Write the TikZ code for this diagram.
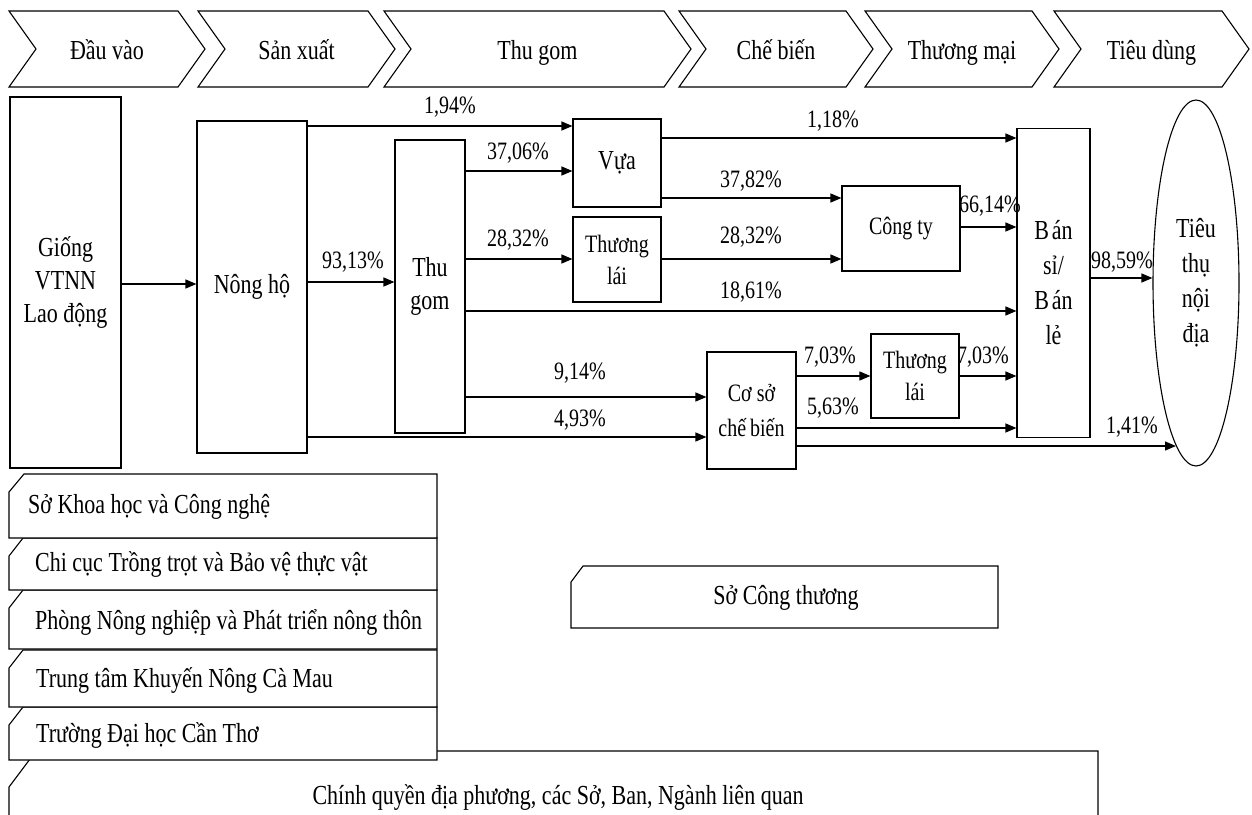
\documentclass[tikz,border=0pt]{standalone}
\usepackage{fontspec}
\setmainfont{Liberation Serif}[FakeStretch=0.8]
\usetikzlibrary{arrows.meta,shapes.geometric,calc}
\tikzset{
  mainfont/.style={font=\fontsize{27.5}{33}\selectfont},
  smallfont/.style={font=\fontsize{25}{32}\selectfont},
  box/.style={draw, line width=1.1pt, fill=white, inner sep=0pt, align=center, mainfont},
  sbox/.style={box, smallfont},
  chev/.style={draw, line width=1.1pt, fill=white, line join=miter},
  snip/.style={draw, line width=1.1pt, fill=white},
  arr/.style={line width=1.3pt, -{Triangle[length=11pt,width=9pt]}},
  pct/.style={inner sep=0pt, smallfont},
  lbl/.style={inner sep=0pt, mainfont},
}
\newcommand{\mychev}[4]{%
  \draw[chev] (#1,11) -- (#2,11) -- ({#2+27},49) -- (#2,87) -- (#1,87) -- ({#1+27},49) -- cycle;
  \node[lbl, anchor=base] (#3) at ({(#1+#2+27)/2},59) {#4};
}
\begin{document}
\begin{tikzpicture}[x=1pt,y=-1pt]
\useasboundingbox (0,0) rectangle (1252,814);
\fill[white] (0,0) rectangle (1252,814);

% stage chevrons
\mychev{9}{178}{c1}{Đầu vào}
\mychev{198}{368}{c2}{Sản xuất}
\mychev{384}{664}{c3}{Thu gom}
\mychev{679}{846}{c4}{Chế biến}
\mychev{865}{1032}{c5}{Thương mại}
\mychev{1054}{1222}{c6}{Tiêu dùng}

% level coordinates
\coordinate (yA) at (0,126);
\coordinate (yB) at (0,284);
\coordinate (yC) at (0,282);
\coordinate (yD) at (0,171);
\coordinate (yE) at (0,259);
\coordinate (yF) at (0,138);
\coordinate (yG) at (0,198);
\coordinate (yH) at (0,259);
\coordinate (yI) at (0,311);
\coordinate (yJ) at (0,227);
\coordinate (yK) at (0,278);
\coordinate (yL) at (0,397);
\coordinate (yM) at (0,437);
\coordinate (yN) at (0,376);
\coordinate (yO) at (0,428);

% nodes
\node[box, minimum width=111, minimum height=371] (gi) at (65.5,282.5) {Giống\\VTNN\\Lao động};
\node[box, minimum width=110, minimum height=332] (nh) at (252,287) {Nông hộ};
\node[box, minimum width=70, minimum height=293] (tg) at (430,286.5) {Thu\\gom};
\node[box, minimum width=88, minimum height=88] (vua) at (617,163) {Vựa};
\node[sbox, minimum width=88, minimum height=85] (tl1) at (617,259.5) {Thương\\lái};
\node[sbox, minimum width=118, minimum height=85] (cty) at (901,228.5) {Công ty};
\node[sbox, minimum width=89, minimum height=117, font=\fontsize{25}{35}\selectfont] (cs) at (751.5,410.5) {Cơ sở\\chế\kern-1pt\ biến};
\node[sbox, minimum width=88, minimum height=84] (tl2) at (915,376) {Thương\\lái};
\node[box, minimum width=73, minimum height=309, font=\fontsize{27.5}{35}\selectfont] (ban) at (1053.5,283) {B\kern3pt án\\sỉ/\\B\kern3pt án\\lẻ};
\node[box, ellipse, minimum width=86, minimum height=366, font=\fontsize{27.5}{35}\selectfont] (tt) at (1196,283) {Tiêu\\thụ\\nội\\địa};

% connectors
\draw[arr] (gi.east |- yB) -- (nh.west |- yB);
\draw[arr] (nh.east |- yA) -- (vua.west |- yA);
\draw[arr] (nh.east |- yC) -- (tg.west |- yC);
\draw[arr] (nh.east |- yM) -- (cs.west |- yM);
\draw[arr] (tg.east |- yD) -- (vua.west |- yD);
\draw[arr] (tg.east |- yE) -- (tl1.west |- yE);
\draw[arr] (tg.east |- yI) -- (ban.west |- yI);
\draw[arr] (tg.east |- yL) -- (cs.west |- yL);
\draw[arr] (vua.east |- yF) -- (ban.west |- yF);
\draw[arr] (vua.east |- yG) -- (cty.west |- yG);
\draw[arr] (tl1.east |- yH) -- (cty.west |- yH);
\draw[arr] (cty.east |- yJ) -- (ban.west |- yJ);
\draw[arr] (ban.east |- yK) -- (tt.west |- yK);
\draw[arr] (cs.east |- yN) -- (tl2.west |- yN);
\draw[arr] (tl2.east |- yN) -- (ban.west |- yN);
\draw[arr] (cs.east |- yO) -- (ban.west |- yO);
\draw[arr] (cs.east |- tt.263) -- (tt.263);

% percentage labels
\node[pct] (p1) at (450,107) {1,94\%};
\node[pct] (p2) at (518,153) {37,06\%};
\node[pct] (p3) at (518,240) {28,32\%};
\node[pct] (p4) at (353,262) {93,13\%};
\node[pct] (p5) at (833,121) {1,18\%};
\node[pct] (p6) at (751,181) {37,82\%};
\node[pct] (p7) at (751,237) {28,32\%};
\node[pct] (p8) at (751,292) {18,61\%};
\node[pct] (p9) at (990,206) {66,14\%};
\node[pct] (p10) at (1122,262) {98,59\%};
\node[pct] (p11) at (580,373) {9,14\%};
\node[pct] (p12) at (580,420) {4,93\%};
\node[pct] (p13) at (830,357) {7,03\%};
\node[pct] (p14) at (983,357) {7,03\%};
\node[pct] (p15) at (833,408) {5,63\%};
\node[pct] (p16) at (1132,427) {1,41\%};

% support institutions
\draw[snip] (36,751) -- (1098,751) -- (1098,840) -- (9,840) -- (9,787) -- cycle;
\node[lbl] (b6) at (558,797) {Chính quyền địa phương, các Sở, Ban, Ngành liên quan};
\draw[snip] (23,707) -- (437,707) -- (437,760) -- (9,760) -- (9,725) -- cycle;
\node[lbl, anchor=west] (b5) at (36,735) {Trường Đại học Cần Thơ};
\draw[snip] (23,650) -- (437,650) -- (437,707) -- (9,707) -- (9,668) -- cycle;
\node[lbl, anchor=west] (b4) at (36,680) {Trung tâm Khuyến Nông Cà Mau};
\draw[snip] (23,590) -- (437,590) -- (437,649) -- (9,649) -- (9,608) -- cycle;
\node[lbl, anchor=west] (b3) at (35,622) {Phòng Nông nghiệp và Phát triển nông thôn};
\draw[snip] (23,538) -- (437,538) -- (437,590) -- (9,590) -- (9,556) -- cycle;
\node[lbl, anchor=west] (b2) at (35,565) {Chi cục Trồng trọt và Bảo vệ thực vật};
\draw[snip] (24,474) -- (437,474) -- (437,538) -- (9,538) -- (9,492) -- cycle;
\node[lbl, anchor=west] (b1) at (28,507) {Sở Khoa học và Công nghệ};

\draw[snip] (583,566) -- (998,566) -- (998,628) -- (571,628) -- (571,582) -- cycle;
\node[lbl] (sct) at (786,598) {Sở Công thương};
\end{tikzpicture}
\end{document}
